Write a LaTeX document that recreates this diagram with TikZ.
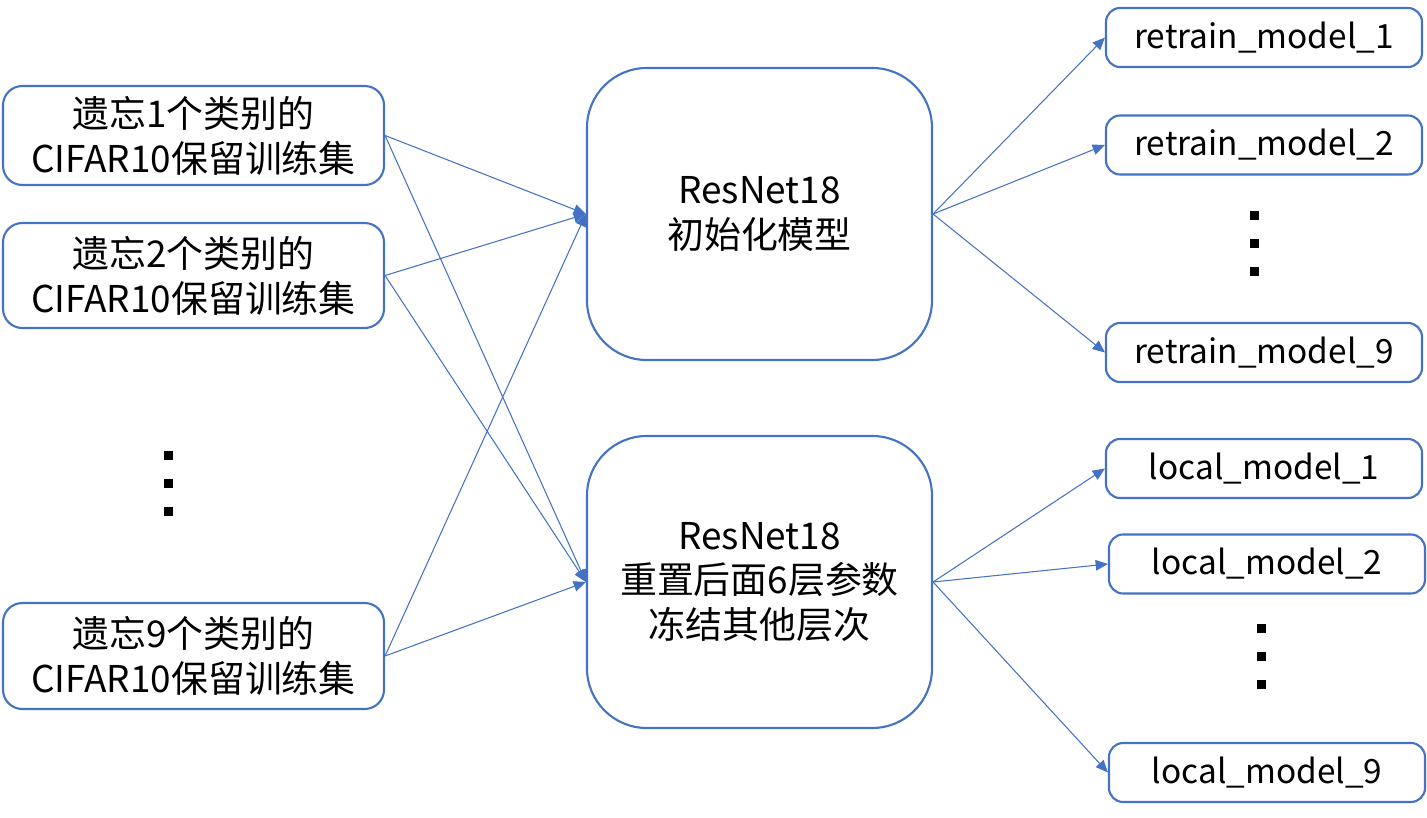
\documentclass[tikz,border=0pt]{standalone}
\usepackage{fontspec}
\setmainfont{Noto Sans CJK SC}
\usetikzlibrary{arrows.meta}
\definecolor{ob}{HTML}{4472C4}
\tikzset{
  box/.style={draw=ob, line width=1.2pt, rounded corners=11pt, inner sep=0pt, align=center,
    font=\fontsize{21}{25.5}\selectfont, text=black},
  bigbox/.style={box, rounded corners=34pt, minimum width=345*0.02cm, minimum height=292*0.02cm},
  leftbox/.style={box, minimum width=381*0.02cm},
  rightbox/.style={box, rounded corners=8pt, minimum width=316*0.02cm, minimum height=59*0.02cm,
    font=\fontsize{19}{23}\selectfont},
  conn/.style={draw=ob, line width=0.6pt, -{Triangle[length=7pt,width=6pt]}},
  dot/.style={fill=black, minimum size=9*0.02cm, inner sep=0pt},
}
\begin{document}
\begin{tikzpicture}[x=0.02cm,y=-0.02cm]
\useasboundingbox (0,0) rectangle (1427,818);
% left boxes
\node[leftbox, minimum height=99*0.02cm] (l1) at (193.5,135.5) {遗忘1个类别的\\CIFAR10保留训练集};
\node[leftbox, minimum height=105*0.02cm] (l2) at (193.5,275.5) {遗忘2个类别的\\CIFAR10保留训练集};
\node[leftbox, minimum height=106*0.02cm] (l9) at (193.5,656) {遗忘9个类别的\\CIFAR10保留训练集};
\node[dot] (ld1) at (168,455) {};
\node[dot] (ld2) at (168,483) {};
\node[dot] (ld3) at (168,511) {};
% center boxes
\node[bigbox] (c1) at (759.5,214) {ResNet18\\初始化模型};
\node[bigbox] (c2) at (759.5,582) {ResNet18\\重置后面6层参数\\冻结其他层次};
% right boxes
\node[rightbox] (r1) at (1264,37.5) {retrain\_model\_1};
\node[rightbox] (r2) at (1264,145) {retrain\_model\_2};
\node[rightbox] (r9) at (1264,352.5) {retrain\_model\_9};
\node[dot] (rd1) at (1254,215) {};
\node[dot] (rd2) at (1254,243) {};
\node[dot] (rd3) at (1254,271) {};
\node[rightbox] (m1) at (1264,468.5) {local\_model\_1};
\node[rightbox] (m2) at (1267,564) {local\_model\_2};
\node[rightbox] (m9) at (1267,772.5) {local\_model\_9};
\node[dot] (md1) at (1261,628) {};
\node[dot] (md2) at (1261,656) {};
\node[dot] (md3) at (1261,684) {};
% connectors
\foreach \s in {l1,l2,l9}{
  \draw[conn] (\s.east) -- (c1.west);
  \draw[conn] (\s.east) -- (c2.west);
}
\foreach \t in {r1,r2,r9}{\draw[conn] (c1.east) -- (\t.west);}
\foreach \t in {m1,m2,m9}{\draw[conn] (c2.east) -- (\t.west);}
\end{tikzpicture}
\end{document}
